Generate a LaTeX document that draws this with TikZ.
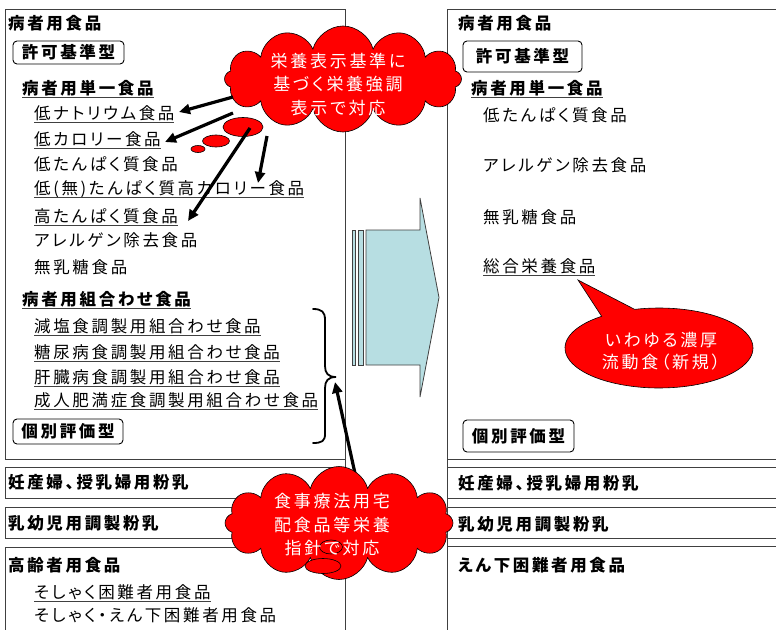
\documentclass[tikz,border=0pt]{standalone}
\usepackage{fontspec}
\usetikzlibrary{shapes.symbols,arrows.meta}
\newfontfamily\jp{Noto Sans CJK JP}[LetterSpace=16,RawFeature=+palt]
\newcommand\ulx[1]{\setbox0=\hbox{#1}\rlap{\color{black!75}\rule[-3.6pt]{\wd0}{0.9pt}}\box0}
\definecolor{arrowfill}{RGB}{183,222,226}
\definecolor{framec}{RGB}{64,64,64}
\begin{document}
\begin{tikzpicture}[x=1pt,y=-1pt,
 frame/.style={draw=framec,line width=1pt},
 txt/.style={anchor=base west,inner sep=0pt,font=\jp\fontsize{16.5}{20}\selectfont},
 btxt/.style={anchor=base west,inner sep=0pt,font=\jp\bfseries\fontsize{16.5}{20}\selectfont},
 tagbox/.style={draw=black,line width=0.9pt,rounded corners=4pt,inner sep=0pt,font=\jp\bfseries\fontsize{16.5}{20}\selectfont},
 cloudtxt/.style={text=white,align=center,inner sep=0pt,font=\jp\fontsize{17}{23.5}\selectfont},
 redshape/.style={fill=red,draw=black,line width=0.6pt},
 bigarrow/.style={line width=3.2pt,-{Triangle[length=11pt,width=10pt]}},
 arrowshape/.style={fill=arrowfill,draw=framec,line width=0.8pt},
]
\useasboundingbox (0,0) rectangle (776,629);
\clip (0,0) rectangle (776,629);
\fill[white] (0,0) rectangle (776,629);

% frames
\draw[frame] (345,9) -- (5,9) -- (5,459) -- (345,459);
\draw[frame] (345,467) -- (5,467) -- (5,498) -- (345,498);
\draw[frame] (345,507) -- (5,507) -- (5,538) -- (345,538);
\draw[frame] (345,547) -- (5,547) -- (5,640);
\draw[frame] (345,9) -- (345,640);
\draw[frame] (447,9) -- (447,640);
\draw[frame] (447,9) -- (800,9);
\draw[frame] (447,459) -- (800,459);
\draw[frame] (447,467) -- (800,467);
\draw[frame] (447,498) -- (800,498);
\draw[frame] (447,507) -- (800,507);
\draw[frame] (447,538) -- (800,538);
\draw[frame] (447,546) -- (800,546);

% left texts
\node[btxt] (l1) at (8,29) {病者用食品};
\node[tagbox,minimum width=111pt,minimum height=23pt] (lk) at (68.5,52.5) {許可基準型};
\node[btxt] (l2) at (22,94) {\ulx{病者用単一食品}};
\node[txt] (l3) at (34,119) {\ulx{低ナトリウム食品}};
\node[txt] (l4) at (34,145) {\ulx{低カロリー食品}};
\node[txt] (l5) at (34,170) {低たんぱく質食品};
\node[txt] (l6) at (34,194) {\ulx{低(無)たんぱく質高カロリー食品}};
\node[txt] (l7) at (34,222) {\ulx{高たんぱく質食品}};
\node[txt] (l8) at (34,246) {アレルゲン除去食品};
\node[txt] (l9) at (34,273) {無乳糖食品};
\node[btxt] (l10) at (22,305) {\ulx{病者用組合わせ食品}};
\node[txt] (l11) at (34,332) {\ulx{減塩食調製用組合わせ食品}};
\node[txt] (l12) at (34,358) {\ulx{糖尿病食調製用組合わせ食品}};
\node[txt] (l13) at (34,383) {\ulx{肝臓病食調製用組合わせ食品}};
\node[txt] (l14) at (34,406) {\ulx{成人肥満症食調製用組合わせ食品}};
\node[tagbox,minimum width=110pt,minimum height=25pt] (lg) at (68,431.5) {個別評価型};
\node[btxt] (l15) at (8,488) {妊産婦、授乳婦用粉乳};
\node[btxt] (l16) at (8,529) {乳幼児用調製粉乳};
\node[btxt] (l17) at (8,571) {高齢者用食品};
\node[txt] (l18) at (34,598) {\ulx{そしゃく困難者用食品}};
\node[txt] (l19) at (34,621) {そしゃく・えん下困難者用食品};

% right texts
\node[btxt] (r1) at (458,29) {病者用食品};
\node[tagbox,minimum width=119pt,minimum height=31pt] (rk) at (522.5,56.5) {許可基準型};
\node[btxt] (r2) at (471,94) {\ulx{病者用単一食品}};
\node[txt] (r3) at (483,121) {低たんぱく質食品};
\node[txt] (r4) at (483,171) {アレルゲン除去食品};
\node[txt] (r5) at (483,223) {無乳糖食品};
\node[txt] (r6) at (483,272) {\ulx{総合栄養食品}};
\node[tagbox,minimum width=111pt,minimum height=32pt] (rg) at (518.5,436) {個別評価型};
\node[btxt] (r7) at (458,489) {妊産婦、授乳婦用粉乳};
\node[btxt] (r8) at (458,530) {乳幼児用調製粉乳};
\node[btxt] (r9) at (458,571) {えん下困難者用食品};

% middle arrow
\draw[arrowshape] (352,230) rectangle (355.5,365);
\draw[arrowshape] (358,230) rectangle (363.5,365);
\draw[arrowshape] (366,230) -- (420,230) -- (420,198) -- (439,297.5) -- (420,397) -- (420,365) -- (366,365) -- cycle;

% brace
\coordinate (btip) at (336,377);
\draw[line width=1.8pt,line cap=round] (313,309) .. controls (322,309) and (325,312) .. (325,320) -- (325,366) .. controls (325,373) and (328,377) .. (btip) .. controls (328,377) and (325,381) .. (325,388) -- (325,434) .. controls (325,441) and (322,443) .. (313,443);

% arrow from cloud 2 to brace
\coordinate (c2s) at (356,478);
\coordinate (c2e) at (335,382);
\draw[bigarrow] (c2s) -- (c2e);

% cloud 1 and bubbles
\draw[redshape] (198,149) ellipse [x radius=7,y radius=3.5];
\draw[redshape] (216,141) ellipse [x radius=13.5,y radius=6];
\draw[redshape] (243,127) ellipse [x radius=20,y radius=9.5];
\node[cloud,cloud puffs=12,cloud ignores aspect,redshape,minimum width=237pt,minimum height=106pt] (cl1) at (343,79) {};
\node[cloudtxt] (ct1) at (338,84) {栄養表示基準に\\基づく栄養強調\\表示で対応};

\coordinate (a1s) at (233,97);  \coordinate (a1e) at (179,112);
\coordinate (a2s) at (233,113); \coordinate (a2e) at (165,142);
\coordinate (a3s) at (250,128); \coordinate (a3e) at (188,221);
\coordinate (a4s) at (267,136); \coordinate (a4e) at (258,183);
\draw[bigarrow] (a1s) -- (a1e);
\draw[bigarrow] (a2s) -- (a2e);
\draw[bigarrow] (a3s) -- (a3e);
\draw[bigarrow] (a4s) -- (a4e);

% cloud 2
\node[cloud,cloud puffs=12,cloud ignores aspect,redshape,minimum width=228pt,minimum height=113pt] (cl2) at (339,523) {};
\draw[redshape] (331,547) ellipse [x radius=11.5,y radius=7];
\draw[redshape] (323,566) ellipse [x radius=18,y radius=7.5];
\node[cloudtxt] (ct2) at (332,525) {食事療法用宅\\配食品等栄養\\指針で対応};

% balloon
\coordinate (btp) at (578,280);
\draw[redshape] (btp) -- plot[domain=-105:232.4,samples=100] ({659+94*cos(\x)},{348+40*sin(\x)}) -- cycle;
\node[cloudtxt,font=\jp\fontsize{17}{22}\selectfont] (bt) at (661,351) {いわゆる濃厚\\流動食（新規）};
\end{tikzpicture}
\end{document}
